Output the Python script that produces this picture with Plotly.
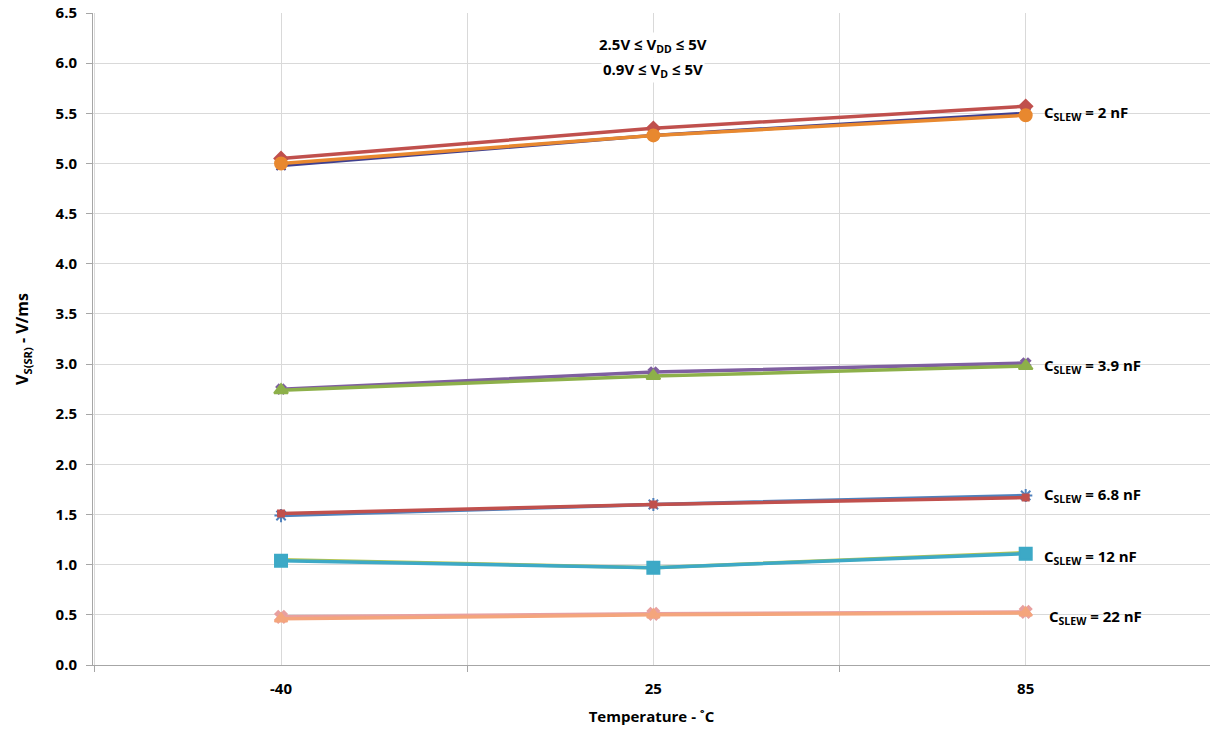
import plotly.graph_objects as go

temps = ["-40", "25", "85"]
y_ticks = [0.0, 0.5, 1.0, 1.5, 2.0, 2.5, 3.0, 3.5, 4.0, 4.5, 5.0, 5.5, 6.0, 6.5]

# C_SLEW = 2 nF
s2_a = [4.98, 5.28, 5.50]
s2_b = [5.05, 5.35, 5.57]
s2_c = [5.00, 5.28, 5.48]
# C_SLEW = 3.9 nF
s39_a = [2.75, 2.92, 3.01]
s39_b = [2.74, 2.88, 2.98]
# C_SLEW = 6.8 nF
s68_a = [1.49, 1.60, 1.69]
s68_b = [1.51, 1.60, 1.67]
# C_SLEW = 12 nF
s12_a = [1.05, 0.97, 1.12]
s12_b = [1.04, 0.97, 1.11]
# C_SLEW = 22 nF
s22_a = [0.48, 0.51, 0.53]
s22_b = [0.46, 0.50, 0.52]

labels = ["C<sub>SLEW</sub> = 2 nF", "C<sub>SLEW</sub> = 3.9 nF", "C<sub>SLEW</sub> = 6.8 nF",
          "C<sub>SLEW</sub> = 12 nF", "C<sub>SLEW</sub> = 22 nF"]
label_y = [5.5, 2.98, 1.69, 1.08, 0.48]
label_shift = [16, 16, 16, 16, 21]

cond_lines = ["2.5V ≤ V<sub>DD</sub> ≤ 5V", "0.9V ≤ V<sub>D</sub> ≤ 5V"]
cond_y = [6.18, 5.93]

xi = list(range(len(temps)))

series = [
    (s2_a, "#3F3F8F", "x-thin", 9),
    (s2_b, "#C0504D", "diamond", 10),
    (s2_c, "#E8882F", "circle", 12),
    (s39_a, "#7F5FA0", "x", 8),
    (s39_b, "#8DB04A", "triangle-up", 12),
    (s68_a, "#4F81BD", "asterisk-open", 11),
    (s68_b, "#C0504D", "square", 6),
    (s12_a, "#B5C44E", "circle", 6),
    (s12_b, "#3DA9C6", "square", 12),
    (s22_a, "#E8A0A0", "x", 10),
    (s22_b, "#F4A57C", "triangle-up", 11),
]

BOLD = dict(family="Open Sans", size=15, color="#000000", weight="bold")

fig = go.Figure()
for vals, col, sym, sz in series:
    fig.add_trace(go.Scatter(
        x=xi, y=vals, mode="lines+markers",
        line=dict(color=col, width=3.5),
        marker=dict(symbol=sym, size=sz, color=col, line=dict(color=col, width=2)),
        showlegend=False,
    ))

for txt, yv, sh in zip(labels, label_y, label_shift):
    fig.add_annotation(x=xi[-1], y=yv, xref="x", yref="y", text=txt,
                       showarrow=False, xanchor="left", xshift=sh,
                       font=dict(family="Open Sans", size=15, color="#000000", weight="bold"))

for txt, yv in zip(cond_lines, cond_y):
    fig.add_annotation(x=1, y=yv, xref="x", yref="y", text=txt,
                       showarrow=False, bgcolor="white",
                       font=dict(family="Open Sans", size=15, color="#000000", weight="bold"))

fig.update_layout(
    width=1210, height=734,
    margin=dict(l=93, r=0, t=13, b=69),
    paper_bgcolor="white", plot_bgcolor="white",
    font=dict(family="Open Sans", size=15, color="#000000"),
    xaxis=dict(
        range=[-0.505, 2.495], tickvals=xi, ticktext=temps,
        showgrid=True, gridcolor="#D9D9D9", gridwidth=1,
        showline=True, linecolor="#A6A6A6", linewidth=1,
        ticks="", zeroline=False, ticklabelstandoff=10,
        minor=dict(tickvals=[-0.5, 0.5, 1.5, 2.5], showgrid=True, gridcolor="#D9D9D9",
                   ticks="outside", ticklen=6, tickcolor="#A6A6A6"),
        tickfont=BOLD,
        title=dict(text="Temperature - ˚C", standoff=14, font=BOLD),
    ),
    yaxis=dict(
        range=[0, 6.5], tickvals=y_ticks, ticktext=["%.1f" % v for v in y_ticks],
        showgrid=True, gridcolor="#D9D9D9", gridwidth=1,
        showline=True, linecolor="#A6A6A6", linewidth=1,
        ticks="outside", ticklen=6, tickcolor="#A6A6A6", zeroline=False,
        ticklabelstandoff=6,
        tickfont=BOLD,
        title=dict(text="V<sub>S(SR)</sub> - V/ms", standoff=22,
                   font=dict(family="Open Sans", size=16, color="#000000", weight="bold")),
    ),
)

fig.write_html("out.html")
